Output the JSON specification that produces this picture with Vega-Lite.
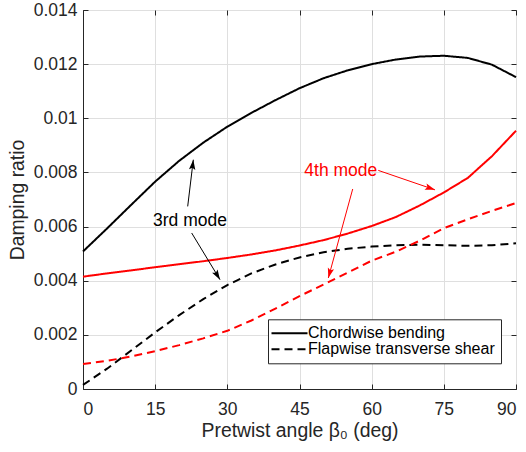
{
  "$schema": "https://vega.github.io/schema/vega-lite/v6.json",
  "width": 433,
  "height": 379,
  "autosize": "none",
  "padding": {"left": 83, "top": 10, "right": 10, "bottom": 63},
  "background": "white",
  "config": {
    "font": "Liberation Sans",
    "view": {"stroke": "#262626", "strokeWidth": 1},
    "axis": {
      "labelFont": "Liberation Sans",
      "titleFont": "Liberation Sans",
      "labelColor": "#262626",
      "titleColor": "#262626",
      "domainColor": "#262626",
      "tickColor": "#262626",
      "gridColor": "#dfdfdf",
      "gridOpacity": 1,
      "labelFontSize": 17.5,
      "titleFontSize": 19.4,
      "titleFontWeight": "normal"
    }
  },
  "datasets": {
    "curves": [
      {"x": 0, "y": 0.00508, "mode": "3rd", "type": "Chordwise bending"},
      {"x": 5, "y": 0.00593, "mode": "3rd", "type": "Chordwise bending"},
      {"x": 10, "y": 0.0068, "mode": "3rd", "type": "Chordwise bending"},
      {"x": 15, "y": 0.00766, "mode": "3rd", "type": "Chordwise bending"},
      {"x": 20, "y": 0.00843, "mode": "3rd", "type": "Chordwise bending"},
      {"x": 25, "y": 0.0091, "mode": "3rd", "type": "Chordwise bending"},
      {"x": 30, "y": 0.00969, "mode": "3rd", "type": "Chordwise bending"},
      {"x": 35, "y": 0.0102, "mode": "3rd", "type": "Chordwise bending"},
      {"x": 40, "y": 0.01067, "mode": "3rd", "type": "Chordwise bending"},
      {"x": 45, "y": 0.01111, "mode": "3rd", "type": "Chordwise bending"},
      {"x": 50, "y": 0.01148, "mode": "3rd", "type": "Chordwise bending"},
      {"x": 55, "y": 0.01177, "mode": "3rd", "type": "Chordwise bending"},
      {"x": 60, "y": 0.012, "mode": "3rd", "type": "Chordwise bending"},
      {"x": 65, "y": 0.01217, "mode": "3rd", "type": "Chordwise bending"},
      {"x": 70, "y": 0.01228, "mode": "3rd", "type": "Chordwise bending"},
      {"x": 75, "y": 0.01231, "mode": "3rd", "type": "Chordwise bending"},
      {"x": 80, "y": 0.01223, "mode": "3rd", "type": "Chordwise bending"},
      {"x": 85, "y": 0.01198, "mode": "3rd", "type": "Chordwise bending"},
      {"x": 90, "y": 0.01152, "mode": "3rd", "type": "Chordwise bending"},
      {"x": 0, "y": 0.00415, "mode": "4th", "type": "Chordwise bending"},
      {"x": 5, "y": 0.00427, "mode": "4th", "type": "Chordwise bending"},
      {"x": 10, "y": 0.00438, "mode": "4th", "type": "Chordwise bending"},
      {"x": 15, "y": 0.0045, "mode": "4th", "type": "Chordwise bending"},
      {"x": 20, "y": 0.00461, "mode": "4th", "type": "Chordwise bending"},
      {"x": 25, "y": 0.00472, "mode": "4th", "type": "Chordwise bending"},
      {"x": 30, "y": 0.00484, "mode": "4th", "type": "Chordwise bending"},
      {"x": 35, "y": 0.00497, "mode": "4th", "type": "Chordwise bending"},
      {"x": 40, "y": 0.00512, "mode": "4th", "type": "Chordwise bending"},
      {"x": 45, "y": 0.0053, "mode": "4th", "type": "Chordwise bending"},
      {"x": 50, "y": 0.0055, "mode": "4th", "type": "Chordwise bending"},
      {"x": 55, "y": 0.00574, "mode": "4th", "type": "Chordwise bending"},
      {"x": 60, "y": 0.00602, "mode": "4th", "type": "Chordwise bending"},
      {"x": 65, "y": 0.00635, "mode": "4th", "type": "Chordwise bending"},
      {"x": 70, "y": 0.00678, "mode": "4th", "type": "Chordwise bending"},
      {"x": 75, "y": 0.00726, "mode": "4th", "type": "Chordwise bending"},
      {"x": 80, "y": 0.0078, "mode": "4th", "type": "Chordwise bending"},
      {"x": 85, "y": 0.0086, "mode": "4th", "type": "Chordwise bending"},
      {"x": 90, "y": 0.00954, "mode": "4th", "type": "Chordwise bending"},
      {"x": 0, "y": 0.00015, "mode": "3rd", "type": "Flapwise transverse shear"},
      {"x": 5, "y": 0.00075, "mode": "3rd", "type": "Flapwise transverse shear"},
      {"x": 10, "y": 0.00142, "mode": "3rd", "type": "Flapwise transverse shear"},
      {"x": 15, "y": 0.00209, "mode": "3rd", "type": "Flapwise transverse shear"},
      {"x": 20, "y": 0.00273, "mode": "3rd", "type": "Flapwise transverse shear"},
      {"x": 25, "y": 0.00332, "mode": "3rd", "type": "Flapwise transverse shear"},
      {"x": 30, "y": 0.00384, "mode": "3rd", "type": "Flapwise transverse shear"},
      {"x": 35, "y": 0.00427, "mode": "3rd", "type": "Flapwise transverse shear"},
      {"x": 40, "y": 0.0046, "mode": "3rd", "type": "Flapwise transverse shear"},
      {"x": 45, "y": 0.00486, "mode": "3rd", "type": "Flapwise transverse shear"},
      {"x": 50, "y": 0.00505, "mode": "3rd", "type": "Flapwise transverse shear"},
      {"x": 55, "y": 0.00518, "mode": "3rd", "type": "Flapwise transverse shear"},
      {"x": 60, "y": 0.00526, "mode": "3rd", "type": "Flapwise transverse shear"},
      {"x": 65, "y": 0.00531, "mode": "3rd", "type": "Flapwise transverse shear"},
      {"x": 70, "y": 0.00533, "mode": "3rd", "type": "Flapwise transverse shear"},
      {"x": 75, "y": 0.00531, "mode": "3rd", "type": "Flapwise transverse shear"},
      {"x": 80, "y": 0.00529, "mode": "3rd", "type": "Flapwise transverse shear"},
      {"x": 85, "y": 0.00531, "mode": "3rd", "type": "Flapwise transverse shear"},
      {"x": 90, "y": 0.00538, "mode": "3rd", "type": "Flapwise transverse shear"},
      {"x": 0, "y": 0.00092, "mode": "4th", "type": "Flapwise transverse shear"},
      {"x": 5, "y": 0.00104, "mode": "4th", "type": "Flapwise transverse shear"},
      {"x": 10, "y": 0.0012, "mode": "4th", "type": "Flapwise transverse shear"},
      {"x": 15, "y": 0.0014, "mode": "4th", "type": "Flapwise transverse shear"},
      {"x": 20, "y": 0.00162, "mode": "4th", "type": "Flapwise transverse shear"},
      {"x": 25, "y": 0.00187, "mode": "4th", "type": "Flapwise transverse shear"},
      {"x": 30, "y": 0.00215, "mode": "4th", "type": "Flapwise transverse shear"},
      {"x": 35, "y": 0.00253, "mode": "4th", "type": "Flapwise transverse shear"},
      {"x": 40, "y": 0.00297, "mode": "4th", "type": "Flapwise transverse shear"},
      {"x": 45, "y": 0.00343, "mode": "4th", "type": "Flapwise transverse shear"},
      {"x": 50, "y": 0.00386, "mode": "4th", "type": "Flapwise transverse shear"},
      {"x": 55, "y": 0.0043, "mode": "4th", "type": "Flapwise transverse shear"},
      {"x": 60, "y": 0.00474, "mode": "4th", "type": "Flapwise transverse shear"},
      {"x": 65, "y": 0.00507, "mode": "4th", "type": "Flapwise transverse shear"},
      {"x": 70, "y": 0.00548, "mode": "4th", "type": "Flapwise transverse shear"},
      {"x": 75, "y": 0.00594, "mode": "4th", "type": "Flapwise transverse shear"},
      {"x": 80, "y": 0.00627, "mode": "4th", "type": "Flapwise transverse shear"},
      {"x": 85, "y": 0.00658, "mode": "4th", "type": "Flapwise transverse shear"},
      {"x": 90, "y": 0.00687, "mode": "4th", "type": "Flapwise transverse shear"}
    ],
    "arrows": [
      {"id": "a1", "mode": "3rd", "x": 21.76, "y": 0.006745, "x2": 22.93, "y2": 0.00847},
      {"id": "a2", "mode": "3rd", "x": 22.59, "y": 0.005763, "x2": 28.48, "y2": 0.004038},
      {"id": "a3", "mode": "4th", "x": 61.38, "y": 0.008075, "x2": 73.16, "y2": 0.007357},
      {"id": "a4", "mode": "4th", "x": 56.06, "y": 0.007388, "x2": 50.99, "y2": 0.0041}
    ],
    "labels": [
      {"text": "3rd mode", "mode": "3rd", "x": 22.24, "y": 0.006032},
      {"text": "4th mode", "mode": "4th", "x": 53.58, "y": 0.007854}
    ]
  },
  "layer": [
    {
      "data": {"name": "curves"},
      "mark": {"type": "line", "strokeWidth": 2},
      "encoding": {
        "x": {
          "field": "x", "type": "quantitative",
          "scale": {"domain": [0, 90], "nice": false},
          "axis": {
            "orient": "bottom",
            "values": [0, 15, 30, 45, 60, 75, 90],
            "tickSize": -5,
            "labelPadding": 16,
            "title": "Pretwist angle β₀ (deg)",
            "titleX": 216.5,
            "titleY": 47.5,
            "titleBaseline": "alphabetic",
            "titleAlign": "center",
            "grid": true
          }
        },
        "y": {
          "field": "y", "type": "quantitative",
          "scale": {"domain": [0, 0.014], "nice": false},
          "axis": {
            "orient": "left",
            "values": [0, 0.002, 0.004, 0.006, 0.008, 0.01, 0.012, 0.014],
            "format": "~g",
            "tickSize": -5,
            "labelPadding": 11,
            "title": "Damping ratio",
            "titleX": -65.5,
            "titleY": 189.5,
            "titleBaseline": "middle",
            "titleAlign": "center",
            "grid": true
          }
        },
        "color": {
          "field": "mode", "type": "nominal",
          "scale": {"domain": ["3rd", "4th"], "range": ["#000000", "#ff0000"]},
          "legend": null
        },
        "strokeDash": {
          "field": "type", "type": "nominal",
          "scale": {"domain": ["Chordwise bending", "Flapwise transverse shear"], "range": [[1, 0], [8, 5]]},
          "legend": {
            "title": null,
            "orient": "none",
            "legendX": 185,
            "legendY": 309.3,
            "strokeColor": "#262626",
            "fillColor": "white",
            "padding": 6,
            "rowPadding": -3,
            "labelFontSize": 16,
            "labelLimit": 0,
            "labelColor": "#000000",
            "labelFont": "Liberation Sans",
            "symbolType": "M-2.1,0H5.1",
            "symbolSize": 100,
            "symbolStrokeWidth": 2,
            "symbolStrokeColor": "#000000",
            "labelOffset": 18
          }
        }
      }
    },
    {
      "data": {"name": "arrows"},
      "mark": {"type": "rule", "strokeWidth": 1},
      "encoding": {
        "x": {"field": "x", "type": "quantitative", "axis": null},
        "y": {"field": "y", "type": "quantitative", "axis": null},
        "x2": {"field": "x2"},
        "y2": {"field": "y2"},
        "color": {"field": "mode", "type": "nominal", "legend": null}
      }
    },
    {
      "data": {"name": "arrows"},
      "transform": [{"filter": "datum.id == 'a1'"}],
      "mark": {"type": "point", "shape": "M0,0L0.32,1L0,0.8L-0.32,1Z", "filled": true, "size": 400, "opacity": 1, "angle": 6.8, "strokeWidth": 0},
      "encoding": {
        "x": {"field": "x2", "type": "quantitative", "axis": null},
        "y": {"field": "y2", "type": "quantitative", "axis": null},
        "color": {"field": "mode", "type": "nominal", "legend": null}
      }
    },
    {
      "data": {"name": "arrows"},
      "transform": [{"filter": "datum.id == 'a2'"}],
      "mark": {"type": "point", "shape": "M0,0L0.32,1L0,0.8L-0.32,1Z", "filled": true, "size": 400, "opacity": 1, "angle": 148.8, "strokeWidth": 0},
      "encoding": {
        "x": {"field": "x2", "type": "quantitative", "axis": null},
        "y": {"field": "y2", "type": "quantitative", "axis": null},
        "color": {"field": "mode", "type": "nominal", "legend": null}
      }
    },
    {
      "data": {"name": "arrows"},
      "transform": [{"filter": "datum.id == 'a3'"}],
      "mark": {"type": "point", "shape": "M0,0L0.32,1L0,0.8L-0.32,1Z", "filled": true, "size": 400, "opacity": 1, "angle": 108.8, "strokeWidth": 0},
      "encoding": {
        "x": {"field": "x2", "type": "quantitative", "axis": null},
        "y": {"field": "y2", "type": "quantitative", "axis": null},
        "color": {"field": "mode", "type": "nominal", "legend": null}
      }
    },
    {
      "data": {"name": "arrows"},
      "transform": [{"filter": "datum.id == 'a4'"}],
      "mark": {"type": "point", "shape": "M0,0L0.32,1L0,0.8L-0.32,1Z", "filled": true, "size": 400, "opacity": 1, "angle": 195.3, "strokeWidth": 0},
      "encoding": {
        "x": {"field": "x2", "type": "quantitative", "axis": null},
        "y": {"field": "y2", "type": "quantitative", "axis": null},
        "color": {"field": "mode", "type": "nominal", "legend": null}
      }
    },
    {
      "data": {"name": "labels"},
      "mark": {"type": "text", "fontSize": 17.5, "font": "Liberation Sans", "align": "center", "baseline": "alphabetic"},
      "encoding": {
        "x": {"field": "x", "type": "quantitative", "axis": null},
        "y": {"field": "y", "type": "quantitative", "axis": null},
        "text": {"field": "text"},
        "color": {"field": "mode", "type": "nominal", "legend": null}
      }
    },
    {
      "data": {"name": "curves"},
      "mark": {"type": "point", "opacity": 0, "size": 0},
      "encoding": {
        "x": {
          "field": "x", "type": "quantitative",
          "axis": {"orient": "top", "values": [0, 15, 30, 45, 60, 75, 90], "tickSize": -5, "labels": false, "title": null, "grid": false, "domain": false}
        },
        "y": {
          "field": "y", "type": "quantitative",
          "axis": {"orient": "right", "values": [0, 0.002, 0.004, 0.006, 0.008, 0.01, 0.012, 0.014], "tickSize": -5, "labels": false, "title": null, "grid": false, "domain": false}
        }
      }
    }
  ],
  "resolve": {"axis": {"x": "independent", "y": "independent"}}
}
